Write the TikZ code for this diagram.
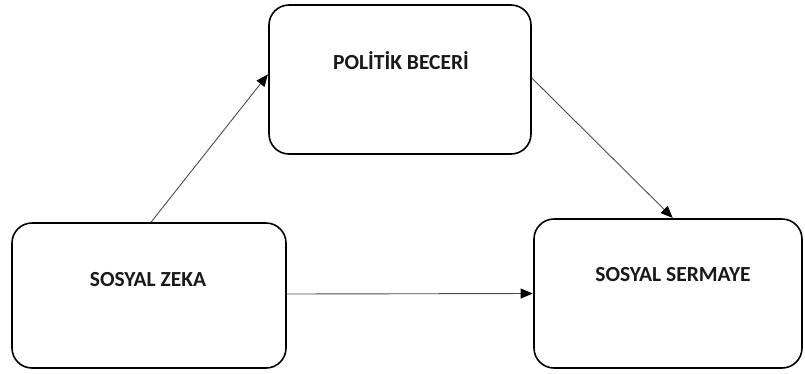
\documentclass[tikz,border=0pt]{standalone}
\usepackage{fontspec}
\setmainfont{Carlito}
\usetikzlibrary{arrows.meta}
\begin{document}
\begin{tikzpicture}[x=1pt,y=-1pt,
  box/.style={draw=black, line width=1.6pt, rounded corners=20pt, fill=white, inner sep=0pt},
  label/.style={font=\bfseries\fontsize{21.5}{24}\selectfont, text=black!90, inner sep=0pt},
  link/.style={draw=black!70, line width=0.9pt, -{Triangle[length=12pt,width=10pt,color=black,fill=black]}, shorten >=0.5pt}]
  \useasboundingbox (0,0) rectangle (805,373);
  % the three concept boxes
  \node[box, minimum width=262pt, minimum height=149pt] (politik) at (400,79.5) {};
  \node[box, minimum width=274pt, minimum height=145pt] (zeka) at (149,295.5) {};
  \node[box, minimum width=268pt, minimum height=149pt] (sermaye) at (668,293.5) {};
  % their titles, set above each box centre
  \node[label] (tpolitik) at (401,61) {POLİTİK BECERİ};
  \node[label] (tzeka) at (148,280) {SOSYAL ZEKA};
  \node[label] (tsermaye) at (673,275) {SOSYAL SERMAYE};
  % connectors
  \draw[link] ([xshift=2pt]zeka.north) -- ([yshift=5.5pt]politik.west);
  \draw[link] ([yshift=1.5pt]politik.east) -- ([xshift=5pt]sermaye.north);
  \draw[link] ([yshift=1.5pt]zeka.east) -- (sermaye.west);
\end{tikzpicture}
\end{document}
